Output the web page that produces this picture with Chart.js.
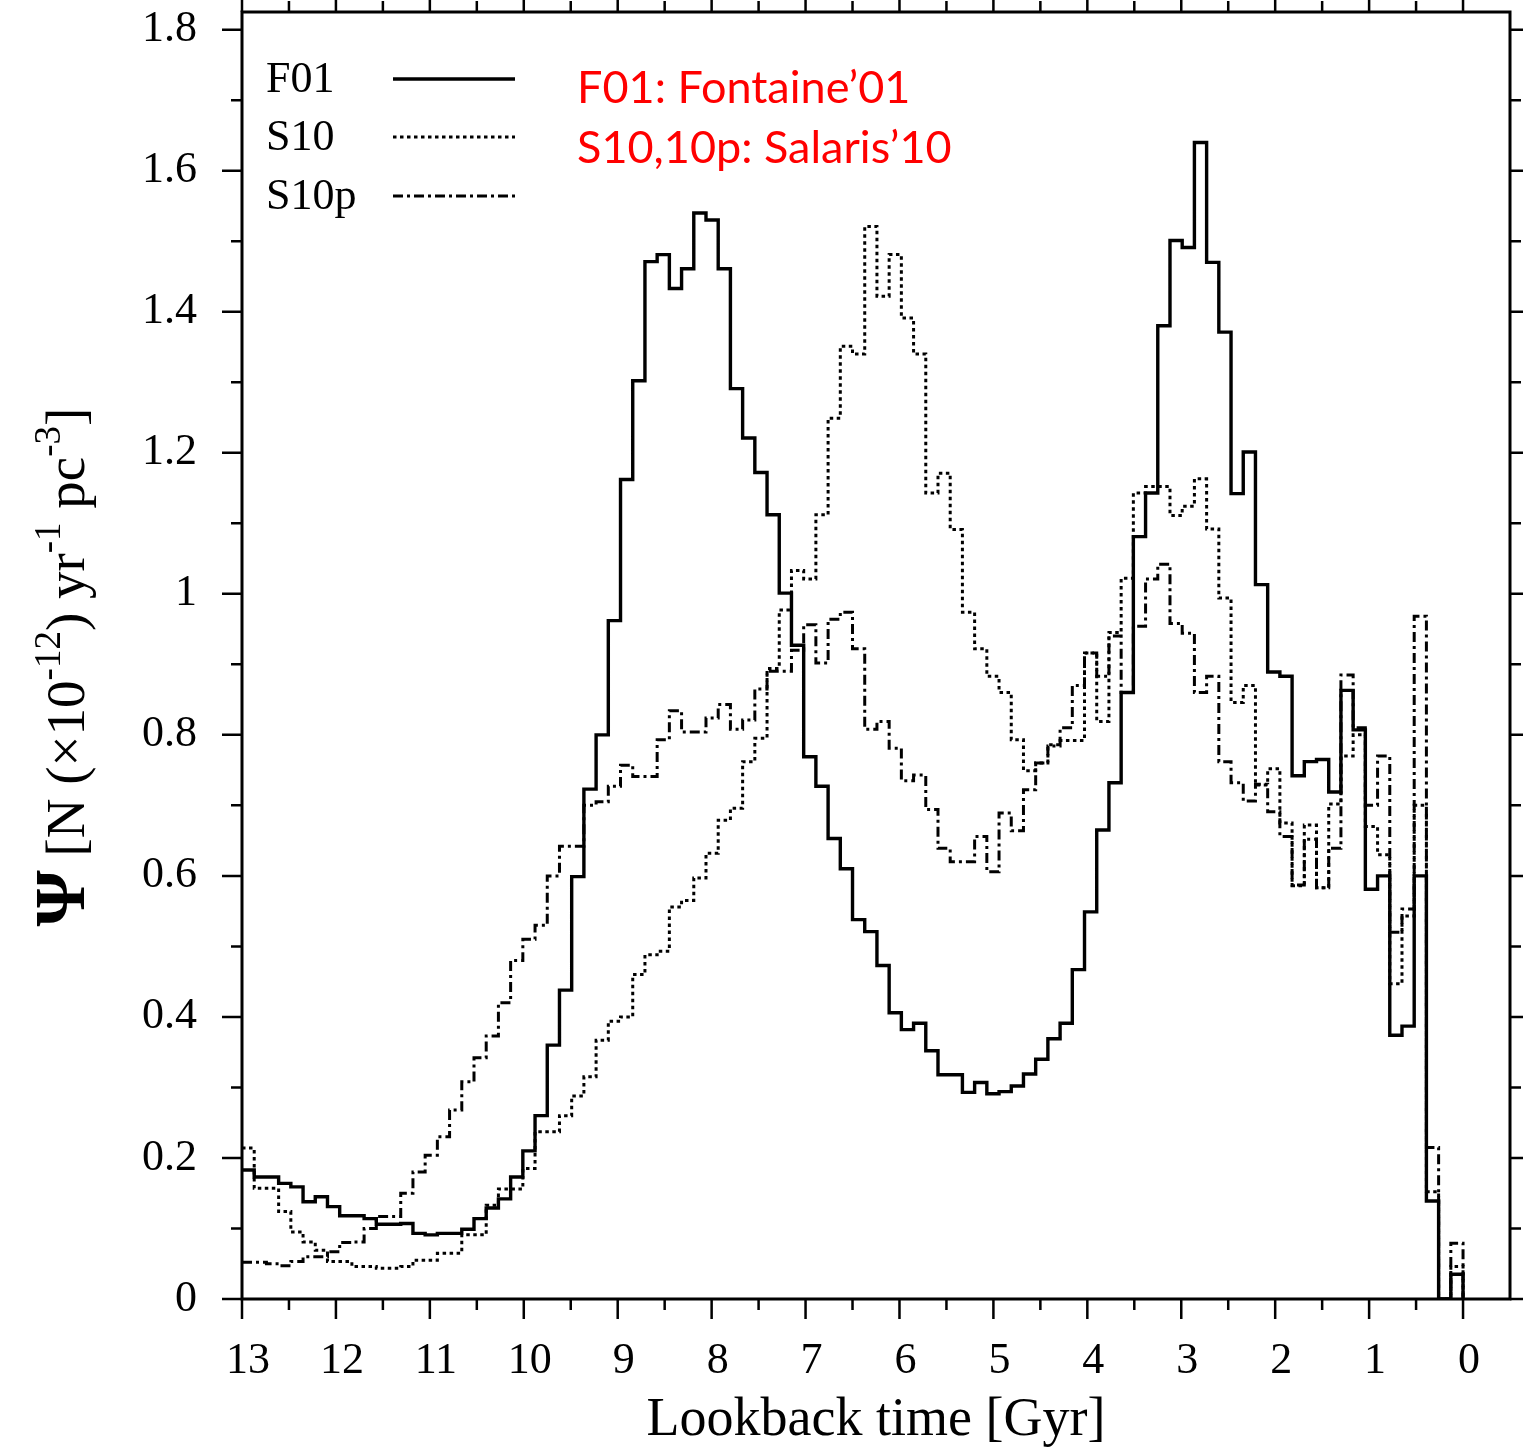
<!DOCTYPE html>
<html><head><meta charset="utf-8">
<script src="https://cdn.jsdelivr.net/npm/chart.js@4.4.0/dist/chart.umd.min.js"></script>
<style>html,body{margin:0;padding:0;background:#fff}canvas{display:block}</style>
</head><body>
<canvas id="c" width="1523" height="1448"></canvas>
<script>
// ---- data ----
const binStart = 13;      // Gyr, left edge of first bin
const binWidth = 0.13;    // Gyr per bin (100 bins down to 0)
const f01 = [0.183,0.173,0.173,0.164,0.159,0.138,0.145,0.131,0.118,0.118,
  0.114,0.106,0.106,0.107,0.093,0.091,0.093,0.093,0.099,0.114,
  0.129,0.142,0.173,0.21,0.26,0.36,0.438,0.599,0.723,0.80,
  0.962,1.162,1.302,1.471,1.481,1.433,1.461,1.540,1.530,1.461,
  1.291,1.221,1.172,1.112,1.001,0.927,0.769,0.727,0.653,0.610,
  0.538,0.521,0.473,0.406,0.382,0.391,0.352,0.318,0.318,0.293,
  0.307,0.291,0.294,0.302,0.319,0.340,0.369,0.391,0.467,0.549,
  0.665,0.732,0.86,1.081,1.143,1.380,1.501,1.491,1.640,1.470,
  1.371,1.142,1.201,1.013,0.889,0.883,0.742,0.762,0.765,0.719,
  0.863,0.807,0.581,0.600,0.374,0.387,0.600,0.139,0,0.035];
const s10 = [0.214,0.157,0.157,0.124,0.095,0.081,0.069,0.053,0.053,0.046,
  0.046,0.0435,0.0435,0.046,0.055,0.055,0.065,0.065,0.091,0.091,
  0.133,0.156,0.156,0.185,0.237,0.237,0.26,0.288,0.315,0.367,
  0.394,0.40,0.46,0.488,0.493,0.556,0.565,0.597,0.632,0.679,
  0.696,0.762,0.795,0.894,0.977,1.033,1.021,1.112,1.249,1.351,
  1.340,1.521,1.422,1.481,1.391,1.340,1.143,1.171,1.091,0.974,
  0.922,0.883,0.860,0.793,0.749,0.760,0.786,0.792,0.792,0.916,
  0.819,0.945,1.022,1.143,1.152,1.152,1.111,1.124,1.163,1.092,
  0.994,0.846,0.870,0.729,0.752,0.675,0.586,0.672,0.583,0.702,
  0.77,0.80,0.67,0.63,0.447,0.543,0.70,0.152,0,0.046];
const s10p = [0.052,0.052,0.050,0.047,0.053,0.060,0.060,0.067,0.080,0.081,
  0.100,0.117,0.117,0.150,0.180,0.204,0.230,0.268,0.308,0.342,
  0.373,0.420,0.480,0.510,0.530,0.600,0.642,0.642,0.700,0.705,
  0.727,0.757,0.741,0.741,0.793,0.834,0.804,0.804,0.824,0.843,
  0.808,0.821,0.865,0.890,0.890,0.920,0.956,0.902,0.964,0.974,
  0.922,0.808,0.819,0.781,0.735,0.743,0.694,0.639,0.620,0.620,
  0.656,0.606,0.689,0.664,0.722,0.760,0.784,0.810,0.870,0.916,
  0.883,0.940,0.860,0.954,1.021,1.042,0.958,0.944,0.860,0.883,
  0.762,0.732,0.706,0.730,0.691,0.656,0.587,0.652,0.583,0.639,
  0.885,0.810,0.700,0.770,0.520,0.553,0.968,0.215,0,0.079];
const seriesNames = ['F01','S10','S10p'];
const xTickValues = [0,1,2,3,4,5,6,7,8,9,10,11,12,13];
const yTickValues = [0,0.2,0.4,0.6,0.8,1,1.2,1.4,1.6,1.8];
const notes = ['F01: Fontaine\u201901','S10,10p: Salaris\u201910'];
const xTitle = 'Lookback time [Gyr]';

// ---- build step points (left bin edges, closing point at 0) ----
function toSteps(vals){
  const pts = vals.map((v,i)=>({x: binStart - binWidth*i, y: v}));
  pts.push({x: binStart - binWidth*vals.length, y: 0});
  return pts;
}
const SERIF = "'Liberation Serif', 'Times New Roman', serif";
const styles = [
  {borderDash: [], borderWidth: 3.4},
  {borderDash: [3.5,3.5], borderWidth: 3},
  {borderDash: [10,4,3,4], borderWidth: 3}
];
const datasets = [f01, s10, s10p].map((vals,i)=>({
  label: seriesNames[i], data: toSteps(vals), stepped: 'before',
  borderColor: '#000', borderWidth: styles[i].borderWidth, borderDash: styles[i].borderDash,
  pointRadius: 0, fill: false, tension: 0
}));

// frame + outer ticks drawn through the scales
const frameTicks = {
  id: 'frameTicks',
  afterDatasetsDraw(chart){
    const {ctx, chartArea: a, scales: {x, y}} = chart;
    ctx.save();
    ctx.strokeStyle = '#000'; ctx.lineWidth = 3; ctx.setLineDash([]);
    ctx.strokeRect(a.left, a.top, a.right - a.left, a.bottom - a.top);
    ctx.lineWidth = 2.5;
    ctx.beginPath();
    for (let i = 0; i <= 26; i++) {
      const v = i * 0.5, px = x.getPixelForValue(v), len = (i % 2 === 0) ? 20 : 11;
      ctx.moveTo(px, a.bottom); ctx.lineTo(px, a.bottom + len);
      ctx.moveTo(px, a.top); ctx.lineTo(px, a.top - len);
    }
    for (let i = 0; i <= 18; i++) {
      const v = i * 0.1, py = y.getPixelForValue(v), len = (i % 2 === 0) ? 20 : 11;
      ctx.moveTo(a.left, py); ctx.lineTo(a.left - len, py);
      ctx.moveTo(a.right, py); ctx.lineTo(a.right + len, py);
    }
    ctx.stroke();
    ctx.restore();
  }
};

const legendNotes = {
  id: 'legendNotes',
  afterDraw(chart){
    const {ctx} = chart;
    ctx.save();
    ctx.font = '44px ' + SERIF;
    ctx.textBaseline = 'middle';
    const rows = [79, 137, 196];
    chart.data.datasets.forEach((ds, i) => {
      ctx.fillStyle = '#000';
      ctx.fillText(ds.label, 266, rows[i] + 1);
      ctx.beginPath();
      ctx.setLineDash(ds.borderDash);
      ctx.lineWidth = ds.borderWidth;
      ctx.strokeStyle = '#000';
      ctx.moveTo(393, rows[i]); ctx.lineTo(515, rows[i]);
      ctx.stroke();
    });
    ctx.setLineDash([]);
    ctx.fillStyle = '#ff0000';
    ctx.font = '45px Lato, Carlito, sans-serif';
    ctx.fillText(notes[0], 577, 88);
    ctx.fillText(notes[1], 577, 148);
    ctx.restore();
  }
};

const yTitle = {
  id: 'yTitle',
  afterDraw(chart){
    const {ctx} = chart;
    const parts = [
      {t: '\u03A8', f: 'bold 72px ' + SERIF, dy: 0},
      {t: ' [N (\u00D710', f: '55px ' + SERIF, dy: 0},
      {t: '-12', f: '37px ' + SERIF, dy: -24},
      {t: ') yr', f: '55px ' + SERIF, dy: 0},
      {t: '-1', f: '37px ' + SERIF, dy: -24},
      {t: ' pc', f: '55px ' + SERIF, dy: 0},
      {t: '-3', f: '37px ' + SERIF, dy: -24},
      {t: ']', f: '55px ' + SERIF, dy: 0}
    ];
    ctx.save();
    let total = 0;
    parts.forEach(p => { ctx.font = p.f; p.w = ctx.measureText(p.t).width; total += p.w; });
    ctx.translate(84, 667);
    ctx.rotate(-Math.PI / 2);
    ctx.fillStyle = '#000';
    ctx.textBaseline = 'alphabetic';
    let cx = -total / 2;
    parts.forEach(p => { ctx.font = p.f; ctx.fillText(p.t, cx, p.dy); cx += p.w; });
    ctx.restore();
  }
};

new Chart(document.getElementById('c'), {
  type: 'line',
  data: { datasets },
  options: {
    responsive: false, animation: false, devicePixelRatio: 1,
    layout: { padding: { top: 12, right: 13, left: 0, bottom: 0 } },
    plugins: { legend: { display: false }, tooltip: { enabled: false } },
    scales: {
      x: {
        type: 'linear', reverse: true, min: -0.5, max: 13,
        grid: { display: false, drawTicks: false }, border: { display: false },
        afterBuildTicks: s => { s.ticks = xTickValues.map(v => ({value: v})); },
        afterFit: s => { s.height = 149; s.paddingLeft = 0; s.paddingRight = 0; },
        ticks: { color: '#000', font: { family: SERIF, size: 44 }, padding: 36, labelOffset: 6, maxRotation: 0, autoSkip: false,
                 callback: v => String(v) },
        title: { display: true, text: xTitle, color: '#000', font: { family: SERIF, size: 54, lineHeight: 1 }, padding: { top: 0, bottom: 0 } }
      },
      y: {
        type: 'linear', min: 0, max: 1.825,
        grid: { display: false, drawTicks: false }, border: { display: false },
        afterBuildTicks: s => { s.ticks = yTickValues.map(v => ({value: v})); },
        afterFit: s => { s.width = 242; s.paddingTop = 0; s.paddingBottom = 0; },
        ticks: { color: '#000', font: { family: SERIF, size: 44 }, padding: 45, callback: v => String(v) }
      }
    }
  },
  plugins: [frameTicks, legendNotes, yTitle]
});
</script>
</body></html>
